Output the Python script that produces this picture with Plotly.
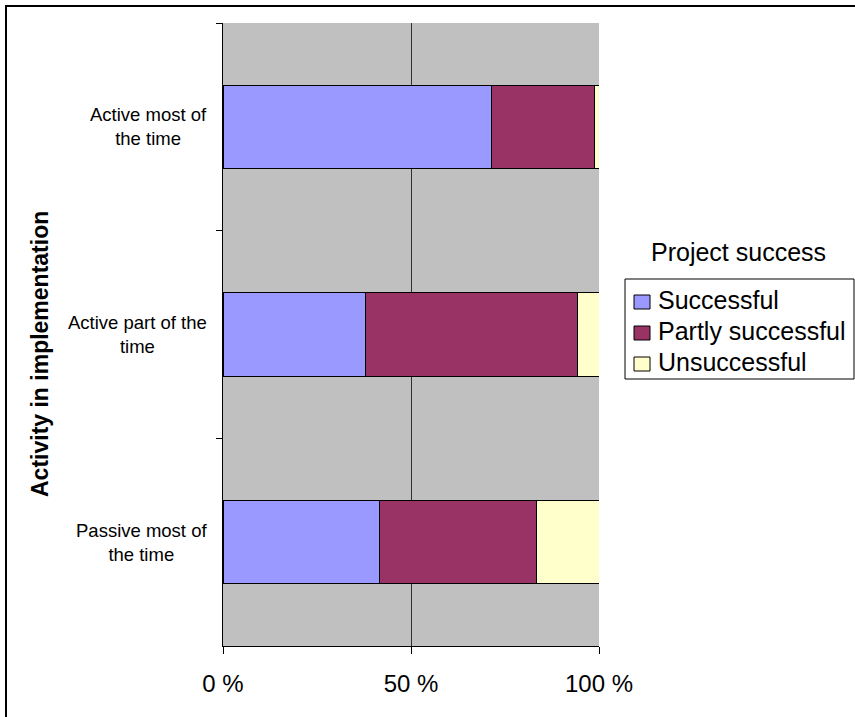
import plotly.graph_objects as go

categories = ["Active most of the time", "Active part of the time", "Passive most of the time"]
category_labels = ["Active most of<br>the time", "Active part of the<br>time", "Passive most of<br>the time"]
series_names = ["Successful", "Partly successful", "Unsuccessful"]
successful = [71.3, 37.8, 41.6]
partly_successful = [27.4, 56.6, 41.7]
unsuccessful = [1.3, 5.6, 16.7]
x_tick_values = [0, 50, 100]
x_tick_labels = ["0 %", "50 %", "100 %"]

colors = ["#9999FF", "#993366", "#FFFFCC"]
FONT = "Liberation Sans, Arial, sans-serif"

W, H = 855, 717
L, R, T, B = 223, 256, 23, 71
PW, PH = W - L - R, H - T - B

def px_x(p):
    return (p - L) / PW

def px_y(p):
    return 1 - (p - T) / PH

fig = go.Figure()
for name, vals, col in zip(series_names, [successful, partly_successful, unsuccessful], colors):
    fig.add_trace(go.Bar(
        y=categories, x=vals, name=name, orientation="h",
        marker=dict(color=col, line=dict(color="black", width=1)),
        showlegend=False,
    ))

annotations = []
for cat, lab in zip(categories, category_labels):
    annotations.append(dict(
        x=px_x(209), xref="paper", y=cat, yref="y", text=lab, showarrow=False,
        xanchor="right", yanchor="middle", align="center",
        font=dict(family=FONT, size=18.5, color="black"),
    ))
annotations.append(dict(
    x=px_x(40), xref="paper", y=px_y(354), yref="paper",
    text="<b>Activity in implementation</b>", textangle=-90, showarrow=False,
    xanchor="center", yanchor="middle",
    font=dict(family=FONT, size=23, color="black"),
))
annotations.append(dict(
    x=px_x(738), xref="paper", y=px_y(252), yref="paper",
    text="Project success", showarrow=False,
    xanchor="center", yanchor="middle",
    font=dict(family=FONT, size=25, color="black"),
))

shapes = [dict(
    type="rect", xref="paper", yref="paper",
    x0=px_x(6), x1=px_x(900), y0=px_y(760), y1=px_y(6),
    line=dict(color="black", width=2), fillcolor="rgba(0,0,0,0)", layer="above",
)]
# legend box
shapes.append(dict(
    type="rect", xref="paper", yref="paper",
    x0=px_x(625), x1=px_x(854), y0=px_y(379), y1=px_y(279),
    line=dict(color="black", width=1), fillcolor="white", layer="above",
))
item_y = [302, 333, 364]
for name, col, yc in zip(series_names, colors, item_y):
    shapes.append(dict(
        type="rect", xref="paper", yref="paper",
        x0=px_x(634), x1=px_x(650), y0=px_y(yc + 7), y1=px_y(yc - 7),
        line=dict(color="black", width=1), fillcolor=col, layer="above",
    ))
    annotations.append(dict(
        x=px_x(656), xref="paper", y=px_y(yc - 2), yref="paper",
        text=name, showarrow=False, xanchor="left", yanchor="middle",
        font=dict(family=FONT, size=25, color="black"),
    ))

fig.update_layout(
    width=W, height=H,
    margin=dict(l=L, r=R, t=T, b=B, pad=0, autoexpand=False),
    barmode="stack", bargap=0.6,
    plot_bgcolor="#C0C0C0", paper_bgcolor="white",
    font=dict(family=FONT, color="black"),
    showlegend=False,
    annotations=annotations,
    shapes=shapes,
)
fig.update_xaxes(
    range=[0, 100], tickvals=x_tick_values, ticktext=x_tick_labels,
    showgrid=True, gridcolor="#303030", gridwidth=1,
    showline=True, linecolor="black", linewidth=1,
    ticks="outside", ticklen=7, tickcolor="black",
    ticklabelstandoff=9,
    tickfont=dict(family=FONT, size=24, color="black"),
    zeroline=False, fixedrange=True,
)
fig.update_yaxes(
    categoryorder="array", categoryarray=categories, autorange="reversed",
    showticklabels=False, tickson="boundaries",
    ticks="outside", ticklen=6, tickcolor="black",
    showgrid=False, showline=True, linecolor="black", linewidth=1,
    zeroline=False, fixedrange=True,
)

fig.write_html("out.html")
